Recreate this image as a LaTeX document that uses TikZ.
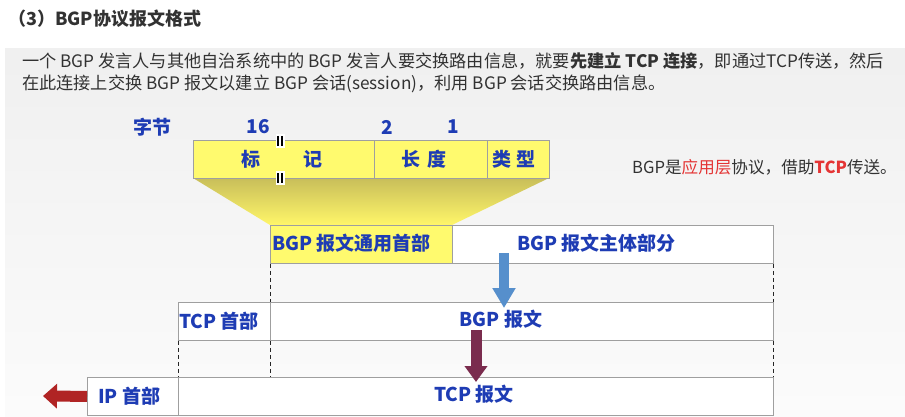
\documentclass[tikz,border=0pt]{standalone}
\usepackage{fontspec}
\setmainfont{Noto Sans CJK SC}
\usetikzlibrary{arrows.meta}
\definecolor{labelblue}{RGB}{30,60,180}
\definecolor{boxyellow}{RGB}{255,250,110}
\definecolor{arrowblue}{RGB}{86,143,204}
\definecolor{arrowmaroon}{RGB}{122,44,78}
\definecolor{arrowred}{RGB}{176,36,36}
\definecolor{textred}{RGB}{228,52,52}
\definecolor{textgray}{RGB}{50,50,50}
\tikzset{
  cell/.style={draw=gray!75, line width=.8pt, minimum height=38, inner sep=0pt, anchor=north west},
  lbl/.style={text=labelblue, font=\bfseries\fontsize{19}{22}\selectfont, inner sep=0pt},
  guide/.style={draw=gray!30!black, line width=.8pt, dash pattern=on 4pt off 3pt},
  blockarrow/.style={line width=#1},
  breakmark/.style={fill=white, minimum width=9, minimum height=14, inner sep=0pt,
    path picture={
      \draw[line width=2pt, shorten <=2pt, shorten >=2pt]
        ([xshift=-2.2pt]path picture bounding box.north) -- ([xshift=-2.2pt]path picture bounding box.south);
      \draw[line width=2pt, shorten <=2pt, shorten >=2pt]
        ([xshift=2.2pt]path picture bounding box.north) -- ([xshift=2.2pt]path picture bounding box.south);}}
}
\begin{document}
\begin{tikzpicture}[x=1pt,y=-1pt]
  \useasboundingbox (0,0) rectangle (905,417);
  \fill[white] (0,0) rectangle (905,417);
  \shade[top color=gray!12, bottom color=gray!3] (5,49) rectangle (905,417);

  % title and text
  \node[anchor=west, inner sep=0pt, text=textgray, font=\bfseries\fontsize{18}{21}\selectfont] (title) at (8,19) {（3）BGP协议报文格式};
  \node[anchor=north west, inner sep=0pt, align=left, text=textgray, font=\fontsize{17.2}{22}\selectfont] (intro) at (22,52)
    {一个 BGP 发言人与其他自治系统中的 BGP 发言人要交换路由信息，就要\textbf{先建立 TCP 连接}，即通过TCP传送，然后\\
     在此连接上交换 BGP 报文以建立 BGP 会话(session)，利用 BGP 会话交换路由信息。};
  \node[anchor=west, inner sep=0pt, text=textgray, font=\fontsize{16.6}{19}\selectfont] (note) at (632,167)
    {BGP是\textcolor{textred}{应用层}协议，借助\textcolor{textred}{\bfseries TCP}传送。};

  % header fields
  \shade[top color={rgb,255:red,200;green,190;blue,90}, bottom color={rgb,255:red,255;green,246;blue,105}]
    (193,178) -- (549,178) -- (452,225) -- (270,225) -- cycle;
  \node[cell, fill=boxyellow, minimum width=181] (marker) at (193,140) {};
  \node[cell, fill=boxyellow, minimum width=113] (length) at (374,140) {};
  \node[cell, fill=boxyellow, minimum width=62] (type) at (487,140) {};
  \node[breakmark] (breaktop) at (280,141) {};
  \node[breakmark] (breakbot) at (280,178) {};
  \node[lbl] (bytes) at (152,127) {字节};
  \node[lbl] (n16) at (258,127) {16};
  \node[lbl] (n2) at (387,127) {2};
  \node[lbl] (n1) at (453,127) {1};
  \node[lbl] (markertext) at (282,159) {标\hspace{2.3em}记};
  \node[lbl] (lengthtext) at (424,159) {长\hspace{.4em}度};
  \node[lbl] (typetext) at (514,159) {类\hspace{.25em}型};

  % BGP message
  \node[cell, fill=boxyellow, minimum width=182] (bgphdr) at (270,225) {};
  \node[cell, fill=white, minimum width=321] (bgpbody) at (452,225) {};
  \node[lbl, anchor=west] (bgphdrtext) at (272,243) {BGP 报文通用首部};
  \node[lbl, anchor=west] (bgpbodytext) at (517,243) {BGP 报文主体部分};

  % TCP segment
  \node[cell, fill=white, minimum width=92] (tcphdr) at (178,302) {};
  \node[cell, fill=white, minimum width=503] (tcpdata) at (270,302) {};
  \node[lbl, anchor=west] (tcphdrtext) at (179,321) {TCP 首部};
  \node[lbl] (tcpdatatext) at (501,319) {BGP 报文};

  % IP datagram
  \node[cell, fill=white, minimum width=91] (iphdr) at (87,377) {};
  \node[cell, fill=white, minimum width=595] (ipdata) at (178,377) {};
  \node[lbl, anchor=west] (iphdrtext) at (98,396) {IP 首部};
  \node[lbl] (ipdatatext) at (474,394) {TCP 报文};

  % guides
  \draw[guide] (bgphdr.south west) -- (tcpdata.north west);
  \draw[guide] (bgpbody.south east) -- (tcpdata.north east);
  \draw[guide] (tcphdr.south west) -- (ipdata.north west);
  \draw[guide] (tcpdata.south west) -- (tcpdata.south west |- ipdata.north);
  \draw[guide] (tcpdata.south east) -- (ipdata.north east);

  % arrows
  \coordinate (bluetop) at (504,253);
  \coordinate (bluetip) at (504,308);
  \coordinate (maroontop) at (476,330);
  \coordinate (maroontip) at (476,382);
  \coordinate (redtip) at (43,396);
  \draw[blockarrow=10pt, arrowblue, -{Triangle[width=22pt,length=20pt]}] (bluetop) -- (bluetip);
  \draw[blockarrow=11pt, arrowmaroon, -{Triangle[width=22pt,length=16pt]}] (maroontop) -- (maroontip);
  \draw[blockarrow=11pt, arrowred, -{Triangle[width=24pt,length=14pt]}] (iphdr.west) -- (redtip);
\end{tikzpicture}
\end{document}
